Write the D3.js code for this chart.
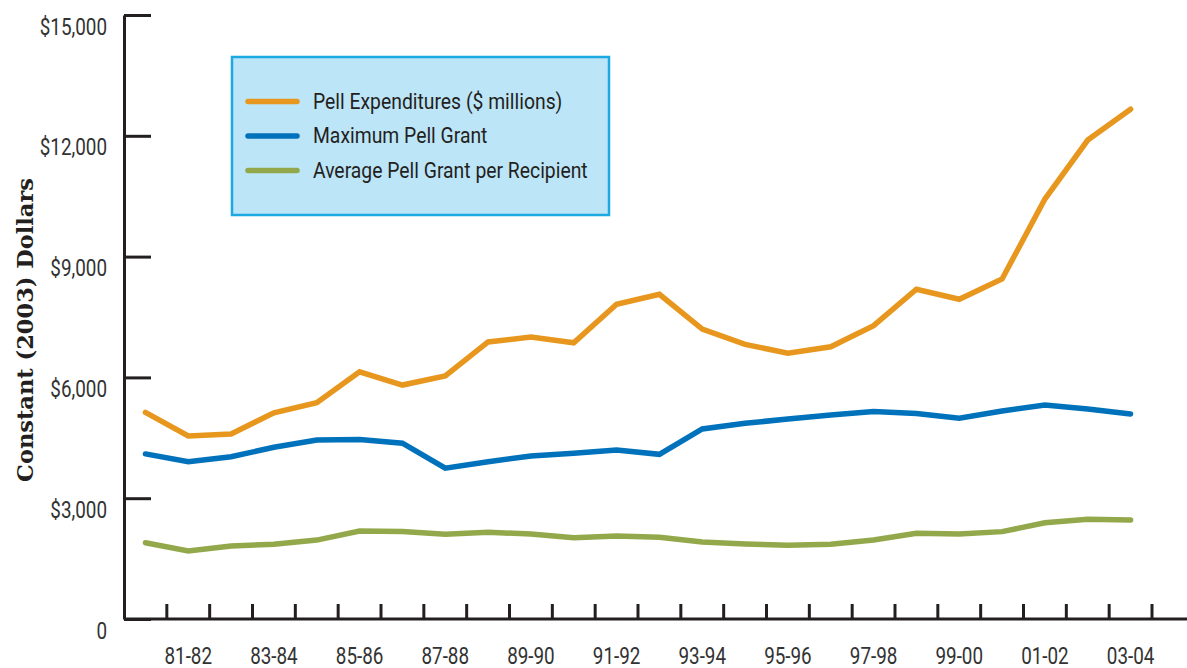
<!DOCTYPE html>
<html>
<head>
<meta charset="utf-8">
<script src="https://cdn.jsdelivr.net/npm/d3@7"></script>
<style>
  html, body { margin: 0; padding: 0; background: #fff; }
  svg { display: block; }
</style>
</head>
<body>
<script>
// school years, 1980-81 through 2003-04
const years = ["80-81","81-82","82-83","83-84","84-85","85-86","86-87","87-88","88-89","89-90",
  "90-91","91-92","92-93","93-94","94-95","95-96","96-97","97-98","98-99","99-00",
  "00-01","01-02","02-03","03-04"];

// constant 2003 dollars
const pellExpenditures = [5130, 4545, 4595, 5120, 5370, 6140, 5810, 6035, 6880, 7000,
  6860, 7815, 8065, 7200, 6820, 6600, 6760, 7285, 8190, 7940,
  8445, 10430, 11895, 12660];
const maxPellGrant = [4100, 3905, 4030, 4265, 4445, 4455, 4365, 3745, 3905, 4050,
  4115, 4195, 4090, 4720, 4860, 4965, 5065, 5150, 5105, 4985,
  5165, 5315, 5215, 5090];
const avgPellGrant = [1895, 1690, 1815, 1855, 1960, 2185, 2170, 2105, 2155, 2110,
  2020, 2060, 2030, 1910, 1865, 1830, 1855, 1960, 2130, 2110,
  2170, 2390, 2475, 2460];

const yTicks = [0, 3000, 6000, 9000, 12000, 15000];

const seriesNames = ["Pell Expenditures ($ millions)", "Maximum Pell Grant", "Average Pell Grant per Recipient"];
const seriesColors = ["#e8971e", "#0072bc", "#93a84a"];

const width = 1187;
const height = 668;
const labelFont = "Roboto, 'DejaVu Sans Condensed', sans-serif";
const squeeze = 0.82; // original type is a condensed face
const legendSqueeze = 0.86;
const ink = "#231f20";

const svg = d3.select("body").append("svg")
  .attr("width", width)
  .attr("height", height);

const x = d3.scaleBand().domain(years).range([124, 1152]);
const y = d3.scaleLinear().domain([0, 15000]).range([619, 15]);

// y axis: ticks point into the plot, labels sit below each tick
const yAxis = svg.append("g")
  .attr("transform", "translate(124,0)")
  .call(d3.axisLeft(y).tickValues(yTicks).tickSizeInner(-27).tickSizeOuter(0)
    .tickFormat(d => d === 0 ? "0" : "$" + d3.format(",")(d)));
yAxis.selectAll("path, line").attr("stroke", ink).attr("stroke-width", 3);
yAxis.selectAll("text")
  .attr("dy", null)
  .attr("x", -17 / squeeze)
  .attr("y", 19)
  .attr("transform", `scale(${squeeze},1)`)
  .style("font-family", labelFont)
  .style("font-size", "23px")
  .attr("fill", "#333");

// x axis baseline runs to the right edge
svg.append("line")
  .attr("x1", 124).attr("x2", width)
  .attr("y1", y(0)).attr("y2", y(0))
  .attr("stroke", ink).attr("stroke-width", 3);

// tick marks at the boundaries between years
const bounds = years.slice(1).map(d => x(d)).concat([x.range()[1]]);
svg.append("g").selectAll("line")
  .data(bounds)
  .join("line")
  .attr("x1", d => d).attr("x2", d => d)
  .attr("y1", y(0)).attr("y2", y(0) - 15)
  .attr("stroke", ink).attr("stroke-width", 3);

const xAxis = svg.append("g")
  .attr("transform", `translate(0,${y(0)})`)
  .call(d3.axisBottom(x).tickValues(years.filter((d, i) => i % 2 === 1)).tickSize(0));
xAxis.select(".domain").remove();
xAxis.selectAll("text")
  .attr("dy", null)
  .attr("y", 45.5)
  .attr("transform", `scale(${squeeze},1)`)
  .style("font-family", labelFont)
  .style("font-size", "23px")
  .attr("fill", "#333");

// y axis title
svg.append("text")
  .attr("transform", "translate(33,330) rotate(-90)")
  .attr("text-anchor", "middle")
  .attr("fill", ink)
  .style("font-family", "'DejaVu Serif', serif")
  .style("font-weight", "bold")
  .style("font-size", "22.5px")
  .text("Constant (2003) Dollars");

// lines
const line = d3.line()
  .x((d, i) => x(years[i]) + x.bandwidth() / 2)
  .y(d => y(d));

const allSeries = [pellExpenditures, maxPellGrant, avgPellGrant];
svg.append("g").selectAll("path")
  .data(allSeries)
  .join("path")
  .attr("d", line)
  .attr("fill", "none")
  .attr("stroke", (d, i) => seriesColors[i])
  .attr("stroke-width", 5.5)
  .attr("stroke-linecap", "round");

// legend
const legend = svg.append("g");
legend.append("rect")
  .attr("x", 232).attr("y", 57)
  .attr("width", 377).attr("height", 158)
  .attr("fill", "#bde5f8")
  .attr("stroke", "#1ba9e1")
  .attr("stroke-width", 2.5);

const item = legend.selectAll("g.item")
  .data(seriesNames)
  .join("g")
  .attr("class", "item")
  .attr("transform", (d, i) => `translate(0,${101.5 + i * 34.5})`);
item.append("line")
  .attr("x1", 248).attr("x2", 297)
  .attr("stroke", (d, i) => seriesColors[i])
  .attr("stroke-width", 5.5)
  .attr("stroke-linecap", "round");
item.append("text")
  .attr("x", 313 / legendSqueeze).attr("y", 7)
  .attr("transform", `scale(${legendSqueeze},1)`)
  .style("font-family", labelFont)
  .style("font-size", "22.5px")
  .attr("fill", ink)
  .text(d => d);
</script>
</body>
</html>
